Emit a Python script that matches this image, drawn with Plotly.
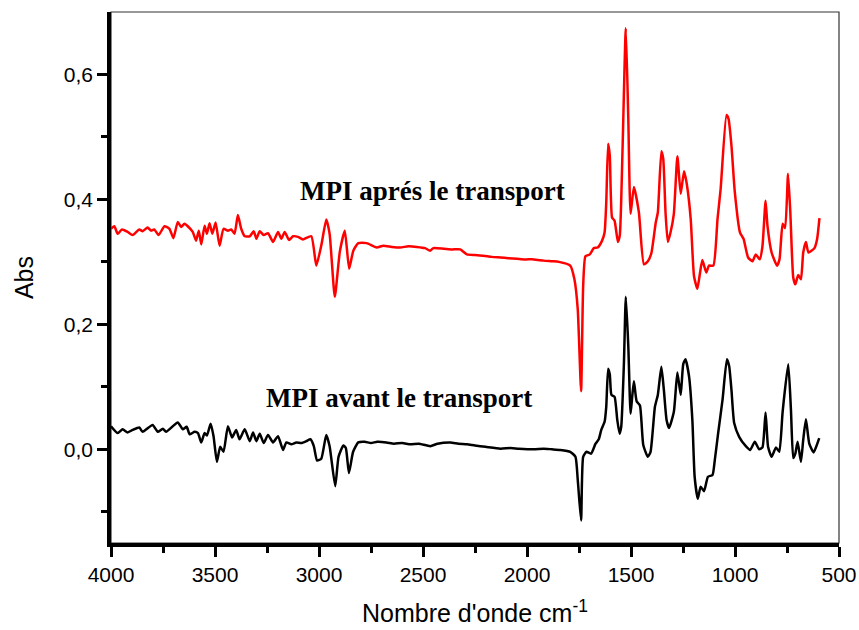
import plotly.graph_objects as go

# Wavenumbers (cm-1) and absorbance - MPI avant le transport (black)
x_avant = [4000, 3968, 3944, 3920, 3896, 3864, 3848, 3800, 3775, 3751, 3735, 3679, 3655, 3636,
           3622, 3598, 3582, 3566, 3550, 3539, 3521, 3507, 3491, 3475, 3459, 3438, 3418, 3398,
           3382, 3357, 3333, 3317, 3301, 3285, 3266, 3245, 3221, 3197, 3173, 3157, 3133, 3109,
           3085, 3061, 3041, 3025, 3009, 2989, 2965, 2949, 2922, 2906, 2883, 2871, 2856, 2836,
           2811, 2780, 2750, 2720, 2676, 2640, 2600, 2560, 2520, 2465, 2430, 2369, 2330, 2289,
           2250, 2200, 2128, 2080, 2040, 1967, 1920, 1880, 1840, 1792, 1767, 1756, 1740, 1730,
           1714, 1692, 1671, 1655, 1643, 1627, 1619, 1610, 1602, 1594, 1579, 1566, 1555, 1547,
           1534, 1525, 1513, 1502, 1494, 1486, 1473, 1457, 1441, 1419, 1406, 1385, 1371, 1354,
           1342, 1329, 1317, 1294, 1277, 1261, 1249, 1238, 1221, 1205, 1194, 1179, 1165, 1149,
           1130, 1108, 1097, 1081, 1060, 1039, 1028, 1017, 1004, 980, 948, 927, 905, 884, 868,
           853, 841, 824, 803, 787, 771, 744, 731, 720, 710, 699, 683, 672, 659, 643, 622, 611, 595]
y_avant = [0.037, 0.026, 0.032, 0.027, 0.031, 0.035, 0.028, 0.039, 0.028, 0.033, 0.028, 0.043, 0.032, 0.036,
           0.024, 0.028, 0.026, 0.011, 0.026, 0.022, 0.041, 0.021, -0.020, 0.004, -0.004, 0.037, 0.019, 0.031,
           0.016, 0.032, 0.013, 0.027, 0.013, 0.025, 0.010, 0.023, 0.011, 0.021, -0.001, 0.011, 0.008, 0.011,
           0.010, 0.013, 0.016, 0.005, -0.018, -0.015, 0.023, 0.005, -0.059, -0.012, 0.006, 0.002, -0.038, -0.004,
           0.011, 0.012, 0.010, 0.012, 0.011, 0.009, 0.010, 0.008, 0.009, 0.005, 0.009, 0.011, 0.009, 0.008,
           0.006, 0.004, 0.001, 0.002, 0.001, 0.000, 0.001, 0.000, -0.001, -0.004, -0.012, -0.049, -0.114, -0.012,
           -0.004, -0.007, 0.0085, 0.016, 0.031, 0.044, 0.068, 0.129, 0.120, 0.087, 0.084, 0.047, 0.025, 0.036,
           0.138, 0.244, 0.165, 0.057, 0.085, 0.109, 0.077, 0.070, 0.007, -0.012, -0.004, 0.068, 0.087, 0.132,
           0.095, 0.047, 0.034, 0.060, 0.123, 0.087, 0.136, 0.144, 0.117, 0.047, -0.044, -0.079, -0.060, -0.067,
           -0.044, -0.041, -0.017, 0.026, 0.079, 0.144, 0.133, 0.095, 0.042, 0.020, 0.005, -0.001, 0.012, 0.000, 0.003,
           0.059, 0.004, -0.012, 0.003, -0.004, 0.060, 0.136, 0.063, -0.014, -0.007, 0.012, -0.020, 0.015, 0.048, 0.009, -0.005, 0.003, 0.018]

# MPI apres le transport (red)
x_apres = [4000, 3984, 3968, 3947, 3920, 3896, 3864, 3848, 3824, 3808, 3792, 3771, 3743, 3719,
           3700, 3679, 3663, 3647, 3631, 3607, 3591, 3578, 3566, 3550, 3539, 3526, 3513, 3497,
           3478, 3459, 3438, 3422, 3406, 3390, 3374, 3357, 3333, 3314, 3301, 3285, 3266, 3245,
           3221, 3197, 3181, 3165, 3144, 3125, 3101, 3077, 3037, 3013, 2988, 2965, 2949, 2924,
           2900, 2876, 2855, 2835, 2811, 2771, 2723, 2691, 2650, 2610, 2570, 2530, 2490, 2466,
           2450, 2400, 2360, 2321, 2289, 2250, 2209, 2170, 2128, 2090, 2048, 2010, 1967, 1920,
           1880, 1847, 1792, 1772, 1756, 1740, 1730, 1719, 1698, 1679, 1660, 1639, 1627, 1619,
           1610, 1602, 1591, 1579, 1563, 1554, 1541, 1525, 1513, 1502, 1486, 1462, 1438, 1419,
           1402, 1381, 1371, 1354, 1345, 1334, 1323, 1310, 1294, 1277, 1261, 1245, 1232, 1213,
           1197, 1181, 1168, 1157, 1138, 1125, 1104, 1084, 1069, 1041, 1031, 1017, 1001, 976,
           959, 937, 916, 900, 881, 868, 853, 844, 824, 798, 786, 771, 759, 745, 734, 720, 710,
           696, 683, 672, 659, 647, 618, 605, 594]
y_apres = [0.353, 0.357, 0.345, 0.352, 0.348, 0.343, 0.352, 0.349, 0.355, 0.350, 0.352, 0.343, 0.357, 0.353,
           0.338, 0.364, 0.356, 0.361, 0.357, 0.348, 0.334, 0.350, 0.328, 0.358, 0.345, 0.362, 0.345, 0.363,
           0.326, 0.353, 0.350, 0.352, 0.345, 0.375, 0.353, 0.341, 0.341, 0.349, 0.337, 0.349, 0.343, 0.346,
           0.332, 0.348, 0.337, 0.348, 0.335, 0.341, 0.340, 0.336, 0.341, 0.294, 0.328, 0.368, 0.345, 0.244,
           0.316, 0.350, 0.289, 0.318, 0.330, 0.330, 0.323, 0.326, 0.324, 0.323, 0.325, 0.324, 0.322, 0.318,
           0.322, 0.321, 0.320, 0.320, 0.312, 0.311, 0.310, 0.308, 0.307, 0.306, 0.305, 0.304, 0.304, 0.302,
           0.301, 0.300, 0.294, 0.272, 0.224, 0.093, 0.261, 0.309, 0.312, 0.322, 0.323, 0.334, 0.347, 0.395,
           0.489, 0.470, 0.371, 0.366, 0.332, 0.342, 0.476, 0.674, 0.529, 0.377, 0.420, 0.379, 0.296, 0.301,
           0.314, 0.363, 0.379, 0.477, 0.465, 0.379, 0.332, 0.347, 0.377, 0.469, 0.409, 0.445, 0.425, 0.369,
           0.277, 0.257, 0.283, 0.303, 0.283, 0.294, 0.294, 0.369, 0.417, 0.535, 0.529, 0.486, 0.412, 0.347,
           0.337, 0.307, 0.301, 0.312, 0.304, 0.325, 0.398, 0.358, 0.315, 0.294, 0.304, 0.361, 0.354, 0.441, 0.379, 0.275, 0.264,
           0.279, 0.272, 0.315, 0.332, 0.315, 0.322, 0.337, 0.370]

labels = ["MPI aprés le transport", "MPI avant le transport"]
label_x = [2453, 2617]
label_y = [0.413, 0.082]

fig = go.Figure()
fig.add_trace(go.Scatter(x=x_avant, y=y_avant, mode="lines",
                         line=dict(color="black", width=2.5, shape="spline", smoothing=0.5),
                         showlegend=False))
fig.add_trace(go.Scatter(x=x_apres, y=y_apres, mode="lines",
                         line=dict(color="#ff0000", width=2.5, shape="spline", smoothing=0.5),
                         showlegend=False))

for t, xx, yy in zip(labels, label_x, label_y):
    fig.add_annotation(x=xx, y=yy, text=f"<b>{t}</b>", showarrow=False,
                       font=dict(family="Liberation Serif", size=27, color="black"),
                       xanchor="center", yanchor="middle")

# thin frame on top/right
fig.add_shape(type="rect", xref="paper", yref="paper", x0=0, x1=1, y0=0, y1=1,
              line=dict(color="#333333", width=1.2), layer="below")

fig.update_layout(
    width=859, height=630,
    margin=dict(l=111, r=20, t=12, b=87, autoexpand=False),
    paper_bgcolor="white", plot_bgcolor="white",
    separators=",.",
    font=dict(family="Liberation Sans", color="black"),
)
fig.update_xaxes(
    range=[4000, 500], autorange=False, automargin=False,
    tickvals=[4000, 3500, 3000, 2500, 2000, 1500, 1000, 500],
    ticks="outside", ticklen=10, tickwidth=3, tickcolor="black",
    tickfont=dict(size=21, family="Liberation Sans"),
    minor=dict(tickvals=[3750, 3250, 2750, 2250, 1750, 1250, 750], ticks="outside",
               ticklen=6, tickwidth=3, tickcolor="black"),
    showline=True, linewidth=3.5, linecolor="black", mirror=False,
    showgrid=False, zeroline=False,
    title=dict(text="Nombre d'onde cm<sup>-1</sup>", font=dict(size=25, family="Liberation Sans"), standoff=21),
)
fig.update_yaxes(
    range=[-0.15, 0.70], autorange=False, automargin=False,
    tickvals=[0.0, 0.2, 0.4, 0.6], tickformat=".1f",
    ticks="outside", ticklen=10, tickwidth=3, tickcolor="black",
    tickfont=dict(size=21, family="Liberation Sans"),
    minor=dict(tickvals=[-0.1, 0.1, 0.3, 0.5], ticks="outside",
               ticklen=6, tickwidth=3, tickcolor="black"),
    showline=True, linewidth=3.5, linecolor="black", mirror=False,
    showgrid=False, zeroline=False,
    title=dict(text="Abs", font=dict(size=25, family="Liberation Sans"), standoff=24),
)

fig.write_html("out.html")
